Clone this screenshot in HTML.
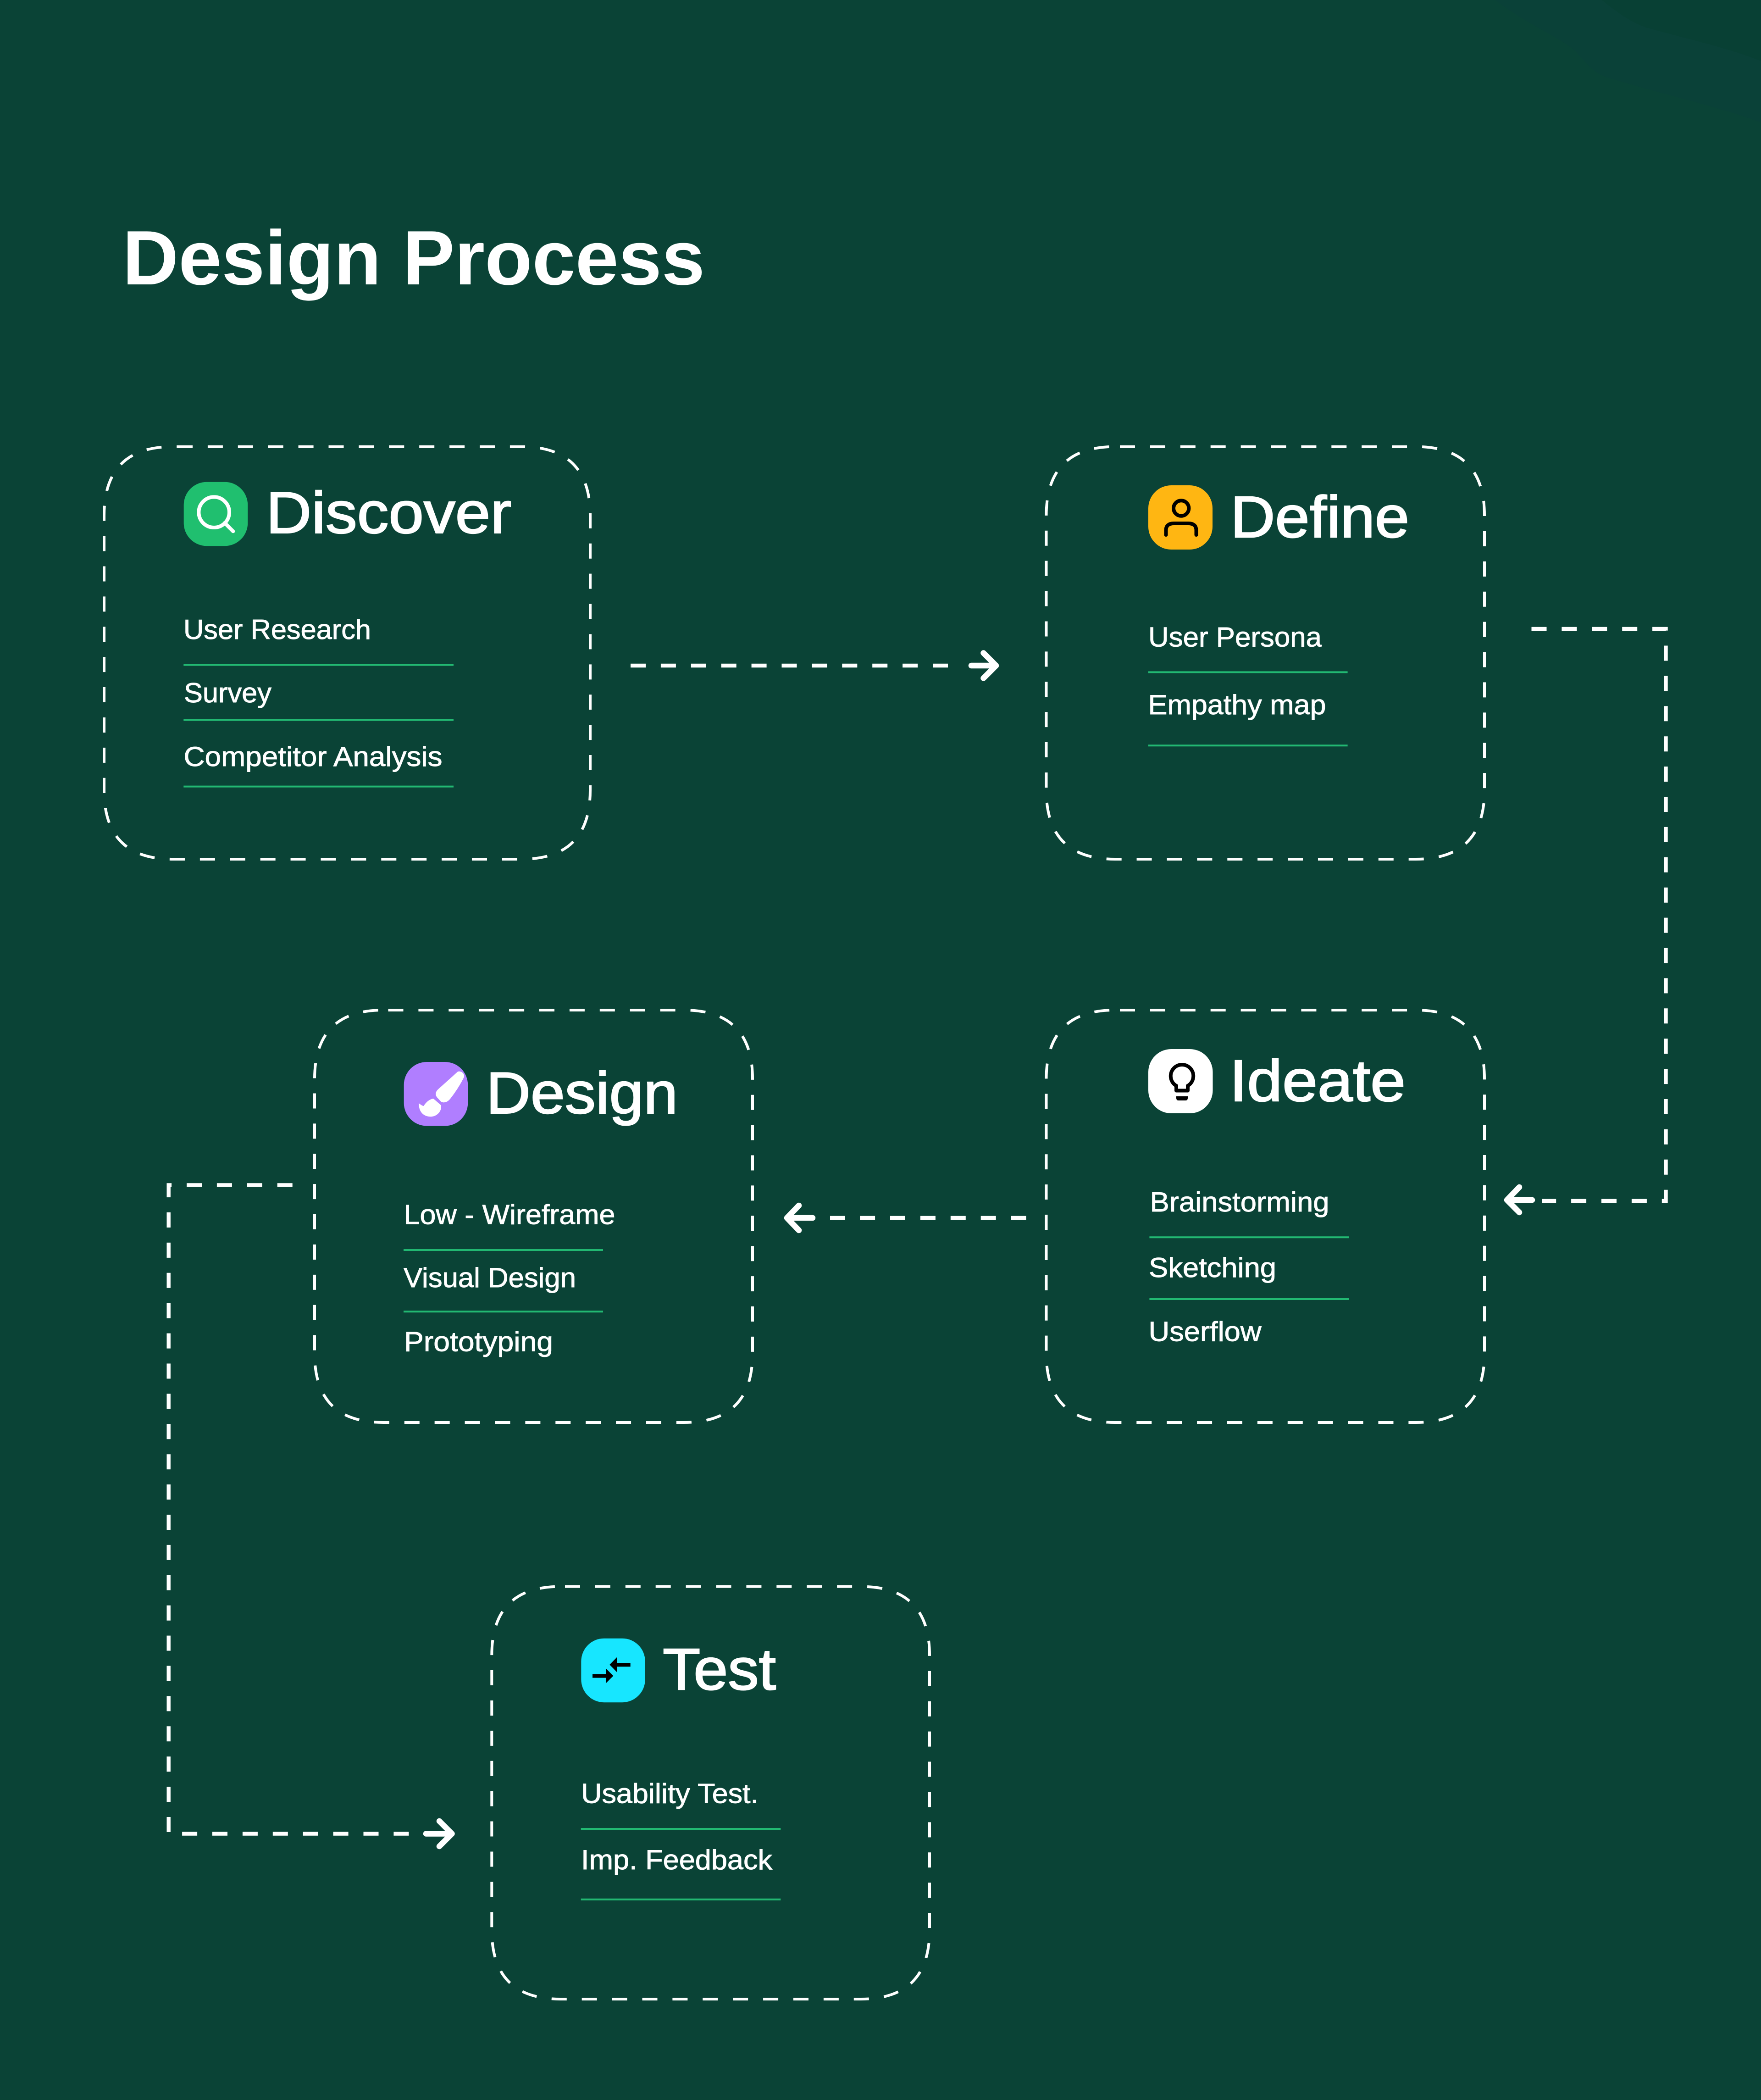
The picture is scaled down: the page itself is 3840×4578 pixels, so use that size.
<!DOCTYPE html>
<html lang="en">
<head>
<meta charset="utf-8">
<title>Design Process</title>
<style>
html,body{margin:0;padding:0;background:#0a4336;width:3840px;height:4578px;overflow:hidden}
svg{display:block}
text{font-family:"Liberation Sans",Arial,sans-serif;fill:#fff}
.t{font-size:168px;font-weight:700}
.h{font-size:128px;stroke:#fff;stroke-width:2.5px}
.l{font-size:60px;stroke:#fff;stroke-width:.9px}
.box{fill:none;stroke:#fff;stroke-width:6;stroke-dasharray:33 32.9}
.con{fill:none;stroke:#fff;stroke-width:8.4;stroke-dasharray:33 32.9;stroke-linejoin:miter}
.arr{fill:none;stroke:#fff;stroke-width:12.5;stroke-linecap:round;stroke-linejoin:round}
.sep{stroke:#22b872;stroke-width:4}
</style>
</head>
<body>
<svg xmlns="http://www.w3.org/2000/svg" width="3840" height="4578" viewBox="0 0 3840 4578">
<rect width="3840" height="4578" fill="#0a4336"/>
<path d="M3260 0C3340 60 3420 90 3440 117C3470 150 3480 160 3500 167C3620 205 3740 230 3840 267V0Z" fill="#0a4138"/>
<path d="M3493 0C3530 30 3560 50 3590 60C3680 85 3770 105 3840 133V0Z" fill="#084034"/>

<text class="t" x="267" y="620" textLength="1270" lengthAdjust="spacingAndGlyphs">Design Process</text>

<!-- Discover -->
<path class="box" d="M387 973.7H1137C1237 973.7 1287 1023.7 1287 1123.7V1723C1287 1823 1237 1873 1137 1873H377C277 1873 227 1823 227 1723V1123.7C227 1023.7 277 973.7 377 973.7Z"/>
<rect x="400.7" y="1050.7" width="139.5" height="139.5" rx="50" fill="#20bf6f"/>
<circle cx="466.7" cy="1116.7" r="33.3" fill="none" stroke="#fff" stroke-width="8"/>
<path d="M490 1140L508.3 1158.3" stroke="#fff" stroke-width="8" stroke-linecap="round"/>
<text class="h" x="580" y="1161.7" textLength="535" lengthAdjust="spacingAndGlyphs">Discover</text>
<text class="l" x="400" y="1393" textLength="409" lengthAdjust="spacingAndGlyphs">User Research</text>
<line class="sep" x1="400.3" x2="989" y1="1449.5" y2="1449.5"/>
<text class="l" x="401" y="1531" textLength="191" lengthAdjust="spacingAndGlyphs">Survey</text>
<line class="sep" x1="400.3" x2="989" y1="1569.5" y2="1569.5"/>
<text class="l" x="400.5" y="1670" textLength="564" lengthAdjust="spacingAndGlyphs">Competitor Analysis</text>
<line class="sep" x1="400.3" x2="989" y1="1714.6" y2="1714.6"/>

<!-- Define -->
<path class="box" d="M2442 973.7H3087C3187 973.7 3237 1023.7 3237 1123.7V1723C3237 1823 3187 1873 3087 1873H2431.5C2331.5 1873 2281.5 1823 2281.5 1723V1123.7C2281.5 1023.7 2331.5 973.7 2431.5 973.7Z"/>
<rect x="2504" y="1058" width="140" height="140" rx="50" fill="#ffb612"/>
<circle cx="2575.7" cy="1108" r="16.7" fill="none" stroke="#000" stroke-width="8"/>
<path d="M2542.5 1166V1156Q2542.5 1141 2560 1141H2591Q2608.5 1141 2608.5 1156V1166" fill="none" stroke="#000" stroke-width="8" stroke-linecap="round"/>
<text class="h" x="2683" y="1171" textLength="390" lengthAdjust="spacingAndGlyphs">Define</text>
<text class="l" x="2504" y="1409.7" textLength="378" lengthAdjust="spacingAndGlyphs">User Persona</text>
<line class="sep" x1="2503.7" x2="2938.6" y1="1465.4" y2="1465.4"/>
<text class="l" x="2503.5" y="1557" textLength="388" lengthAdjust="spacingAndGlyphs">Empathy map</text>
<line class="sep" x1="2503.7" x2="2938.6" y1="1625.3" y2="1625.3"/>

<!-- Ideate -->
<path class="box" d="M2442 2202H3087C3187 2202 3237 2252 3237 2352V2951C3237 3051 3187 3101 3087 3101H2431.5C2331.5 3101 2281.5 3051 2281.5 2951V2352C2281.5 2252 2331.5 2202 2431.5 2202Z"/>
<rect x="2504" y="2287" width="140.5" height="140" rx="50" fill="#fff"/>
<path d="M2565 2367V2377.5H2590V2367A24.7 24.7 0 1 0 2565 2367Z" fill="none" stroke="#000" stroke-width="8" stroke-linejoin="round"/>
<path d="M2565 2390H2590V2394Q2590 2399 2585 2399H2570Q2565 2399 2565 2394Z" fill="#000"/>
<text class="h" x="2681" y="2400" textLength="384" lengthAdjust="spacingAndGlyphs">Ideate</text>
<text class="l" x="2507.5" y="2641" textLength="391" lengthAdjust="spacingAndGlyphs">Brainstorming</text>
<line class="sep" x1="2506.4" x2="2941" y1="2697.3" y2="2697.3"/>
<text class="l" x="2505" y="2784" textLength="278" lengthAdjust="spacingAndGlyphs">Sketching</text>
<line class="sep" x1="2506.4" x2="2941" y1="2832" y2="2832"/>
<text class="l" x="2504.5" y="2923.7" textLength="246" lengthAdjust="spacingAndGlyphs">Userflow</text>

<!-- Design -->
<path class="box" d="M846.5 2202H1491C1591 2202 1641 2252 1641 2352V2951C1641 3051 1591 3101 1491 3101H836C736 3101 686 3051 686 2951V2352C686 2252 736 2202 836 2202Z"/>
<rect x="880.7" y="2315" width="139.5" height="139.5" rx="50" fill="#b07eff"/>
<g transform="translate(860 2260) scale(.33333)" fill="#fff">
<path d="M415 228C435 222 460 240 456 262C440 300 395 370 362 410C345 430 320 435 305 425L280 398C265 380 268 362 285 345Z"/>
<path d="M160 435C172 445 182 452 192 453C205 430 230 408 255 405L305 448C312 490 275 523 238 523C190 523 158 490 160 435Z"/>
</g>
<text class="h" x="1060" y="2426.7" textLength="418" lengthAdjust="spacingAndGlyphs">Design</text>
<text class="l" x="880.5" y="2668.7" textLength="461" lengthAdjust="spacingAndGlyphs">Low - Wireframe</text>
<line class="sep" x1="880" x2="1315" y1="2725" y2="2725"/>
<text class="l" x="880" y="2806" textLength="376" lengthAdjust="spacingAndGlyphs">Visual Design</text>
<line class="sep" x1="880" x2="1315" y1="2859.3" y2="2859.3"/>
<text class="l" x="881" y="2945.7" textLength="325" lengthAdjust="spacingAndGlyphs">Prototyping</text>

<!-- Test -->
<path class="box" d="M1232 3458.6H1877C1977 3458.6 2027 3508.6 2027 3608.6V4208C2027 4308 1977 4358 1877 4358H1222.3C1122.3 4358 1072.3 4308 1072.3 4208V3608.6C1072.3 3508.6 1122.3 3458.6 1222.3 3458.6Z"/>
<rect x="1267.3" y="3571.7" width="139.5" height="139.5" rx="50" fill="#17e6ff"/>
<g transform="translate(1240 3540) scale(.33333)" fill="#000">
<path d="M316 255H404V280H316V316L268 267L316 218Z"/>
<path d="M156 328H243V291L292 340L243 389V353H156Z"/>
</g>
<text class="h" x="1445" y="3683" textLength="247" lengthAdjust="spacingAndGlyphs">Test</text>
<text class="l" x="1267" y="3930.7" textLength="387" lengthAdjust="spacingAndGlyphs">Usability Test.</text>
<line class="sep" x1="1266.7" x2="1702.3" y1="3987" y2="3987"/>
<text class="l" x="1267" y="4075" textLength="417" lengthAdjust="spacingAndGlyphs">Imp. Feedback</text>
<line class="sep" x1="1266.7" x2="1702.3" y1="4140.7" y2="4140.7"/>

<!-- Connectors -->
<path class="con" d="M1375 1451H2090"/>
<path class="arr" d="M2118 1451H2172M2144.5 1423.5L2172 1451L2144.5 1478.5"/>

<path class="con" d="M3339.5 1371H3632.5V2618H3362"/>
<path class="arr" d="M3341 2616H3286M3313 2588L3286 2616L3313 2643"/>

<path class="con" d="M2237.6 2655H1810"/>
<path class="arr" d="M1772 2655H1716M1742 2628L1716 2655L1742 2682"/>

<path class="con" d="M637.7 2583.5H367.7V3997.5H920"/>
<path class="arr" d="M929 3997.5H985.5M958 3970L985.5 3997.5L958 4025"/>
</svg>
</body>
</html>
